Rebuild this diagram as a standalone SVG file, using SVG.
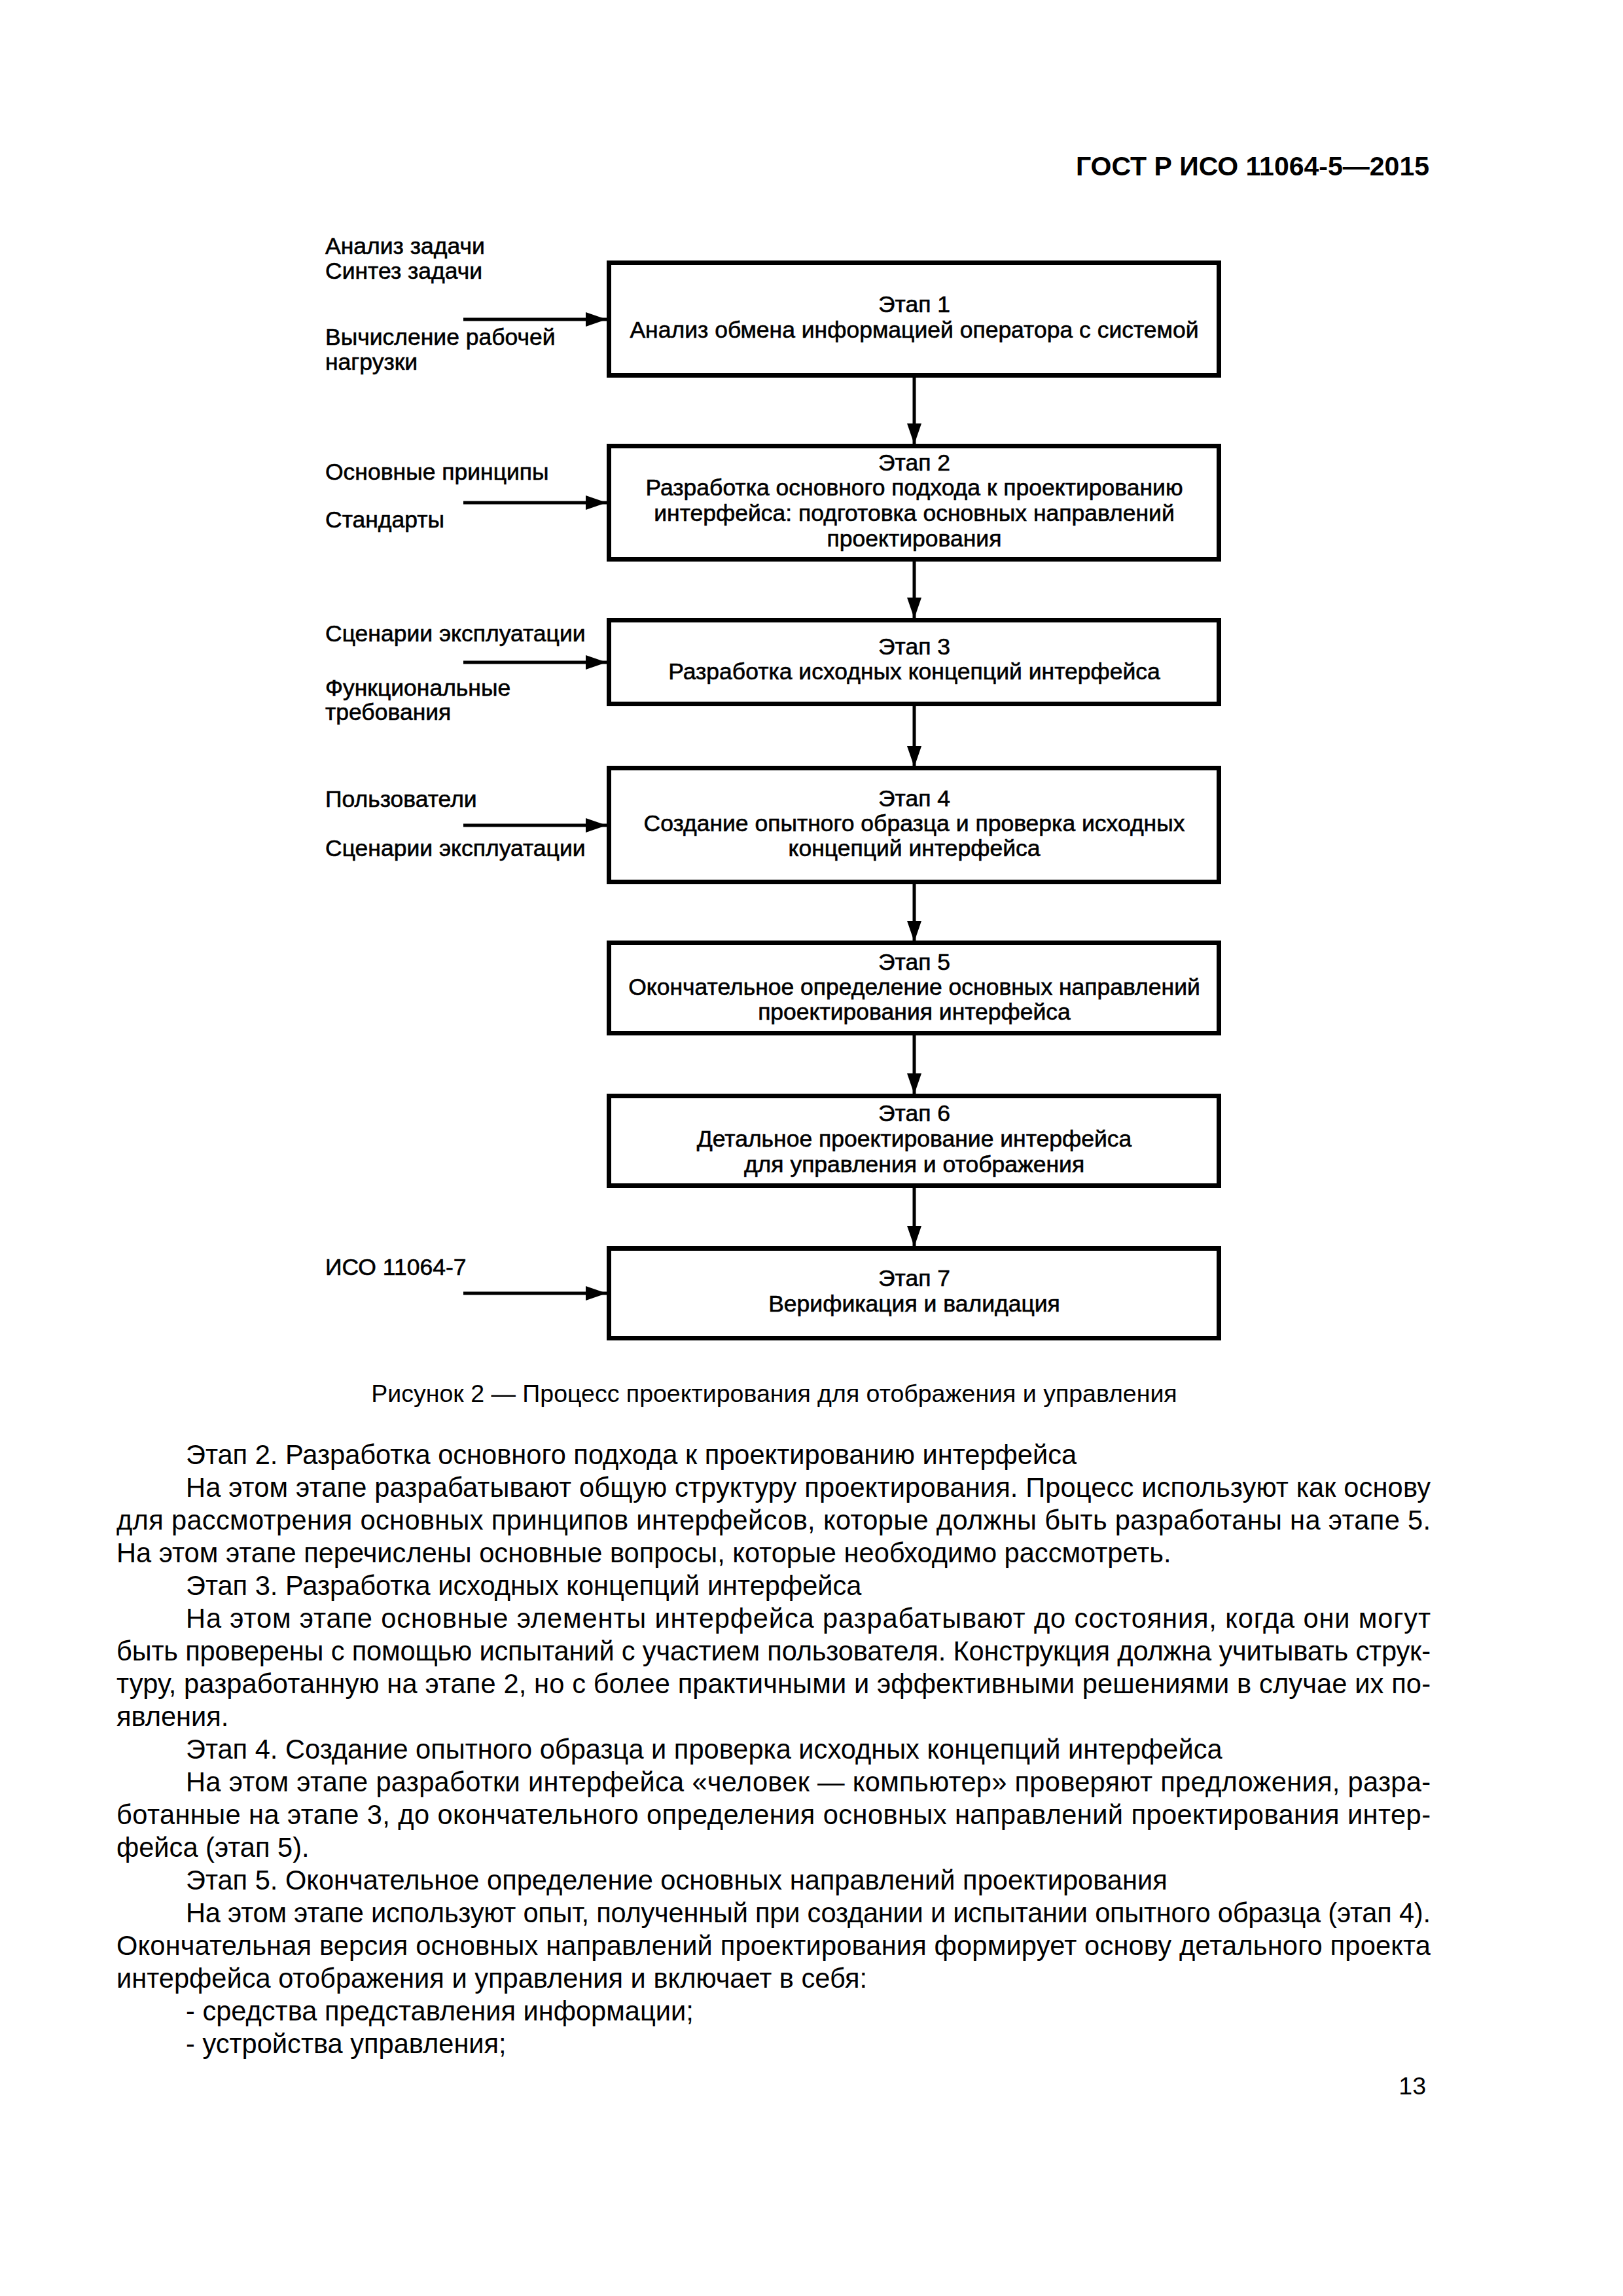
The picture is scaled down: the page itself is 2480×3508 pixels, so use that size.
<svg xmlns="http://www.w3.org/2000/svg" width="2480" height="3508" viewBox="0 0 2480 3508">
<defs>
<style>
.bg{fill:#fff}
.box{fill:#fff;stroke:#000;stroke-width:7}
.ft{font-family:"Liberation Sans",Arial,sans-serif;font-size:35.5px;fill:#000;stroke:#000;stroke-width:0.6}
.bt{text-anchor:middle}
.body{font-family:"Liberation Sans",Arial,sans-serif;font-size:41.6px;fill:#000}
.cap{font-family:"Liberation Sans",Arial,sans-serif;font-size:37.5px;fill:#000;text-anchor:middle}
.hdr{font-family:"Liberation Sans",Arial,sans-serif;font-size:41px;font-weight:bold;fill:#000;text-anchor:end}
.ln{stroke:#000;stroke-width:5;fill:none}
</style>
<marker id="ah" viewBox="0 0 32 22" refX="32" refY="11" markerWidth="32" markerHeight="22" markerUnits="userSpaceOnUse" orient="auto">
<path d="M0,0 L32,11 L0,22 Z" fill="#000"/>
</marker>
</defs>
<rect class="bg" x="0" y="0" width="2480" height="3508"/>
<text class="hdr" x="2184" y="268">ГОСТ Р ИСО 11064-5—2015</text>

<g id="connectors">
<line class="ln" x1="1397" y1="577" x2="1397" y2="679" marker-end="url(#ah)"/>
<line class="ln" x1="1397" y1="857" x2="1397" y2="945" marker-end="url(#ah)"/>
<line class="ln" x1="1397" y1="1079" x2="1397" y2="1172" marker-end="url(#ah)"/>
<line class="ln" x1="1397" y1="1351" x2="1397" y2="1439" marker-end="url(#ah)"/>
<line class="ln" x1="1397" y1="1582" x2="1397" y2="1672" marker-end="url(#ah)"/>
<line class="ln" x1="1397" y1="1815" x2="1397" y2="1905" marker-end="url(#ah)"/>
<line class="ln" x1="708" y1="488" x2="927" y2="488" marker-end="url(#ah)"/>
<line class="ln" x1="708" y1="768" x2="927" y2="768" marker-end="url(#ah)"/>
<line class="ln" x1="708" y1="1012" x2="927" y2="1012" marker-end="url(#ah)"/>
<line class="ln" x1="708" y1="1261" x2="927" y2="1261" marker-end="url(#ah)"/>
<line class="ln" x1="708" y1="1976" x2="927" y2="1976" marker-end="url(#ah)"/>
</g>

<g id="inputs">
<text class="ft" x="497" y="388">Анализ задачи</text>
<text class="ft" x="497" y="426">Синтез задачи</text>
<text class="ft" x="497" y="527">Вычисление рабочей</text>
<text class="ft" x="497" y="565">нагрузки</text>
<text class="ft" x="497" y="733">Основные принципы</text>
<text class="ft" x="497" y="806">Стандарты</text>
<text class="ft" x="497" y="980">Сценарии эксплуатации</text>
<text class="ft" x="497" y="1063">Функциональные</text>
<text class="ft" x="497" y="1100">требования</text>
<text class="ft" x="497" y="1233">Пользователи</text>
<text class="ft" x="497" y="1308">Сценарии эксплуатации</text>
<text class="ft" x="497" y="1948">ИСО 11064-7</text>
</g>

<g id="stage1">
<rect class="box" x="930.5" y="401.5" width="932" height="172"/>
<text class="ft bt" x="1397" y="477">Этап 1</text>
<text class="ft bt" x="1397" y="516">Анализ обмена информацией оператора с системой</text>
</g>
<g id="stage2">
<rect class="box" x="930.5" y="681.5" width="932" height="173"/>
<text class="ft bt" x="1397" y="719">Этап 2</text>
<text class="ft bt" x="1397" y="757">Разработка основного подхода к проектированию</text>
<text class="ft bt" x="1397" y="796">интерфейса: подготовка основных направлений</text>
<text class="ft bt" x="1397" y="835">проектирования</text>
</g>
<g id="stage3">
<rect class="box" x="930.5" y="947.5" width="932" height="128"/>
<text class="ft bt" x="1397" y="1000">Этап 3</text>
<text class="ft bt" x="1397" y="1038">Разработка исходных концепций интерфейса</text>
</g>
<g id="stage4">
<rect class="box" x="930.5" y="1173.5" width="932" height="174"/>
<text class="ft bt" x="1397" y="1232">Этап 4</text>
<text class="ft bt" x="1397" y="1270">Создание опытного образца и проверка исходных</text>
<text class="ft bt" x="1397" y="1308">концепций интерфейса</text>
</g>
<g id="stage5">
<rect class="box" x="930.5" y="1440.5" width="932" height="138"/>
<text class="ft bt" x="1397" y="1482">Этап 5</text>
<text class="ft bt" x="1397" y="1520">Окончательное определение основных направлений</text>
<text class="ft bt" x="1397" y="1558">проектирования интерфейса</text>
</g>
<g id="stage6">
<rect class="box" x="930.5" y="1674.5" width="932" height="137"/>
<text class="ft bt" x="1397" y="1713">Этап 6</text>
<text class="ft bt" x="1397" y="1752">Детальное проектирование интерфейса</text>
<text class="ft bt" x="1397" y="1791">для управления и отображения</text>
</g>
<g id="stage7">
<rect class="box" x="930.5" y="1907.5" width="932" height="137"/>
<text class="ft bt" x="1397" y="1965">Этап 7</text>
<text class="ft bt" x="1397" y="2004">Верификация и валидация</text>
</g>

<text class="cap" x="1183" y="2142">Рисунок 2 — Процесс проектирования для отображения и управления</text>

<g id="body">
<text class="body" x="284" y="2237">Этап 2. Разработка основного подхода к проектированию интерфейса</text>
<text class="body" x="284" y="2287" textLength="1902" lengthAdjust="spacing">На этом этапе разрабатывают общую структуру проектирования. Процесс используют как основу</text>
<text class="body" x="178" y="2337" textLength="2008" lengthAdjust="spacing">для рассмотрения основных принципов интерфейсов, которые должны быть разработаны на этапе 5.</text>
<text class="body" x="178" y="2387">На этом этапе перечислены основные вопросы, которые необходимо рассмотреть.</text>
<text class="body" x="284" y="2437">Этап 3. Разработка исходных концепций интерфейса</text>
<text class="body" x="284" y="2487" textLength="1902" lengthAdjust="spacing">На этом этапе основные элементы интерфейса разрабатывают до состояния, когда они могут</text>
<text class="body" x="178" y="2537" textLength="2008" lengthAdjust="spacing">быть проверены с помощью испытаний с участием пользователя. Конструкция должна учитывать струк-</text>
<text class="body" x="178" y="2587" textLength="2008" lengthAdjust="spacing">туру, разработанную на этапе 2, но с более практичными и эффективными решениями в случае их по-</text>
<text class="body" x="178" y="2637">явления.</text>
<text class="body" x="284" y="2687">Этап 4. Создание опытного образца и проверка исходных концепций интерфейса</text>
<text class="body" x="284" y="2737" textLength="1902" lengthAdjust="spacing">На этом этапе разработки интерфейса «человек — компьютер» проверяют предложения, разра-</text>
<text class="body" x="178" y="2787" textLength="2008" lengthAdjust="spacing">ботанные на этапе 3, до окончательного определения основных направлений проектирования интер-</text>
<text class="body" x="178" y="2837">фейса (этап 5).</text>
<text class="body" x="284" y="2887">Этап 5. Окончательное определение основных направлений проектирования</text>
<text class="body" x="284" y="2937" textLength="1902" lengthAdjust="spacing">На этом этапе используют опыт, полученный при создании и испытании опытного образца (этап 4).</text>
<text class="body" x="178" y="2987" textLength="2008" lengthAdjust="spacing">Окончательная версия основных направлений проектирования формирует основу детального проекта</text>
<text class="body" x="178" y="3037">интерфейса отображения и управления и включает в себя:</text>
<text class="body" x="284" y="3087">- средства представления информации;</text>
<text class="body" x="284" y="3137">- устройства управления;</text>
</g>
<text class="cap" x="2179" y="3200" style="text-anchor:end">13</text>
</svg>
